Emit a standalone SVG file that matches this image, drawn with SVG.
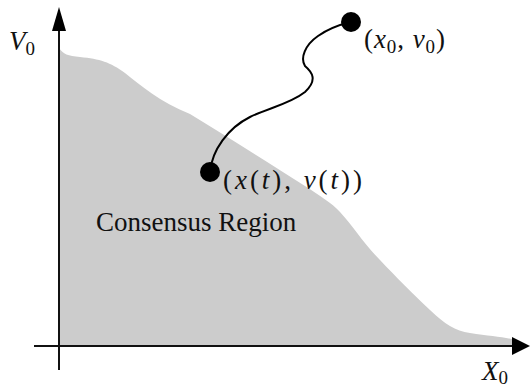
<svg xmlns="http://www.w3.org/2000/svg" width="530" height="387" viewBox="0 0 530 387">
<style>
.i{font-style:italic}
.ax{stroke:#111;stroke-width:2;fill:none}
.lbl{fill:#111;font-size:27px;font-family:"Liberation Serif","Times New Roman",serif}
</style>
<g id="region">
<path d="M59,48 C63,54 68,56 80,57 C100,59 110,62 125,73 C140,85 160,102 190,114 C230,138 270,164 305,186 C320,196 332,203 340,212 C352,225 365,245 380,260 C395,276 415,296 430,310 C445,324 455,331 470,333 C490,336 505,337 515,340 L522,346 L59,346 Z" fill="#cccccc"/>
</g>
<g id="axes">
<line class="ax" x1="34" y1="346" x2="514" y2="346"/>
<path d="M512,337 L530,346 L512,355 Z" fill="#000"/>
<line class="ax" x1="59" y1="370" x2="59" y2="28"/>
<path d="M52,31 L59,7 L66,31 Z" fill="#000"/>
</g>
<g id="connectors">
<path d="M210,172 C212,150 228,128 250,117 C268,108 290,104 305,92 C318,80 312,72 305,66 C300,58 305,45 318,36 C328,29 338,25 351,22" fill="none" stroke="#000" stroke-width="2"/>
</g>
<g id="start">
<circle cx="351" cy="22" r="10" fill="#000"/>
<text class="lbl" x="364" y="48" textLength="81">(<tspan class="i">x</tspan><tspan font-size="19" dy="5">0</tspan><tspan dy="-5">, </tspan><tspan class="i">v</tspan><tspan font-size="19" dy="5">0</tspan><tspan dy="-5">)</tspan></text>
</g>
<g id="current">
<circle cx="210" cy="172" r="10" fill="#000"/>
<text class="lbl" font-size="30" x="223" y="189" textLength="139">(<tspan class="i">x</tspan>(<tspan class="i">t</tspan>), <tspan class="i">v</tspan>(<tspan class="i">t</tspan>))</text>
</g>
<g id="labels">
<text class="lbl" font-size="23.5" x="96" y="231">Consensus Region</text>
<text class="lbl" x="9" y="50"><tspan class="i">V</tspan><tspan font-size="19" dy="5">0</tspan></text>
<text class="lbl" x="482" y="380"><tspan class="i">X</tspan><tspan font-size="19" dy="4">0</tspan></text>
</g>
</svg>
